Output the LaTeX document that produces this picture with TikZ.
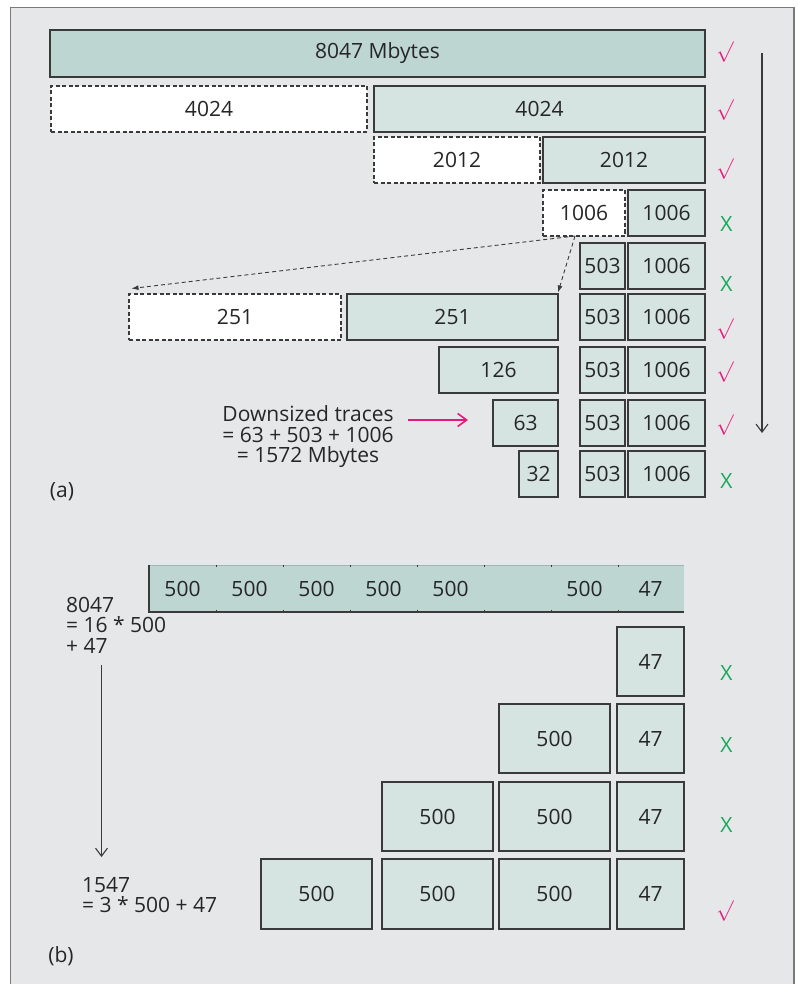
\documentclass[tikz,border=0pt]{standalone}
\usepackage{fontspec}
\setmainfont{Open Sans}
\usetikzlibrary{arrows.meta}
\definecolor{bgc}{HTML}{E6E7E9}
\definecolor{framec}{HTML}{7A7A7A}
\definecolor{linec}{HTML}{3A3A3A}
\definecolor{lightc}{HTML}{D5E4E1}
\definecolor{darkc}{HTML}{BDD6D2}
\definecolor{textc}{HTML}{262626}
\definecolor{pinkc}{HTML}{E8177D}
\definecolor{greenc}{HTML}{17A85A}
\newcommand\bx[7]{\node[#2,minimum width=#5pt-#3pt,minimum height=#6pt-#4pt] (#1) at ({(#3+#5)/2},{(#4+#6)/2}) {#7};}
\begin{document}
\begin{tikzpicture}[x=1pt,y=-1pt,
  every node/.style={text=textc},
  font=\fontsize{21}{20.5}\selectfont,
  box/.style={draw=linec,line width=1.1pt,fill=lightc,inner sep=0pt,outer sep=0pt},
  dbox/.style={box,fill=white,dash pattern=on 4pt off 2.5pt},
  darkbox/.style={box,fill=darkc},
  cell/.style={inner sep=0pt,minimum width=67pt,minimum height=47pt},
  okmark/.style={text=pinkc,font=\fontsize{21}{20}\selectfont},
  nomark/.style={text=greenc,font=\fontsize{21}{20}\selectfont},
  txt/.style={inner sep=0pt,align=left},
  darr/.style={draw=linec,line width=0.9pt,dash pattern=on 4pt off 3pt,-{Latex[length=7pt,width=5pt]}},
  varr/.style={draw=linec,line width=1.2pt,-{Straight Barb[length=8pt,width=12pt,line width=1.1pt]}},
  parr/.style={draw=pinkc,line width=1.8pt,-{Straight Barb[length=9pt,width=13pt,line width=1.6pt]}}
]
\useasboundingbox (0,0) rectangle (797,984);
\fill[white] (0,0) rectangle (797,984);
\draw[framec,fill=bgc,line width=1.2pt] (10.5,7.5) rectangle (794,1000);

% ---------- (a) ----------
\bx{a0}{darkbox}{50}{30}{705}{77}{8047 Mbytes}
\bx{a1l}{dbox}{51}{86}{367}{132}{4024}
\bx{a1r}{box}{374}{86}{705}{132}{4024}
\bx{a2l}{dbox}{374}{137}{540}{183}{2012}
\bx{a2r}{box}{543}{137}{705}{183}{2012}
\bx{a3l}{dbox}{543}{190}{625}{236}{1006}
\bx{a3r}{box}{628}{190}{705}{236}{1006}
\bx{a4m}{box}{580}{243}{625}{289}{503}
\bx{a4r}{box}{628}{243}{705}{289}{1006}
\bx{a5l}{dbox}{129}{294}{341}{340}{251}
\bx{a5c}{box}{347}{294}{558}{340}{251}
\bx{a5m}{box}{580}{294}{625}{340}{503}
\bx{a5r}{box}{628}{294}{705}{340}{1006}
\bx{a6c}{box}{439}{347}{558}{393}{126}
\bx{a6m}{box}{580}{347}{625}{393}{503}
\bx{a6r}{box}{628}{347}{705}{393}{1006}
\bx{a7c}{box}{493}{400}{558}{446}{63}
\bx{a7m}{box}{580}{400}{625}{446}{503}
\bx{a7r}{box}{628}{400}{705}{446}{1006}
\bx{a8c}{box}{519}{451}{558}{497}{32}
\bx{a8m}{box}{580}{451}{625}{497}{503}
\bx{a8r}{box}{628}{451}{705}{497}{1006}

\node[okmark] (k0) at (725,52) {$\surd$};
\node[okmark] (k1) at (725,110) {$\surd$};
\node[okmark] (k2) at (725,169) {$\surd$};
\node[nomark] (k3) at (726.5,224) {X};
\node[nomark] (k4) at (726.5,284) {X};
\node[okmark] (k5) at (725,329) {$\surd$};
\node[okmark] (k6) at (725,372) {$\surd$};
\node[okmark] (k7) at (725,425) {$\surd$};
\node[nomark] (k8) at (726.5,481) {X};

\coordinate (r1) at (762,53);
\coordinate (r2) at (762,433);
\draw[varr] (r1) -- (r2);

\coordinate (sp) at (575,236);
\draw[darr] (sp) -- ([shift={(2.5,-5.5)}]a5l.north west);
\draw[darr] (sp) -- ([shift={(0,-1.5)}]a5c.north east);

\node[txt,align=center] (dt) at (308,437) {Downsized traces\\= 63 + 503 + 1006\\= 1572 Mbytes};
\coordinate (pa) at (408,420);
\draw[parr] (pa) -- ([xshift=-25pt]a7c.west |- pa);

\node[txt] (la) at (62,492) {(a)};

% ---------- (b) ----------
\fill[darkc] (149,565) rectangle (684,612);
\draw[draw=darkc!85!black,line width=0.6pt] (149,565) -- (684,565);
\draw[linec,line width=1.1pt] (149,564.5) -- (149,612) -- (684,612);
\foreach \xx in {216,283,350,417,484,551,618}{
  \draw[linec,line width=0.8pt] (\xx,564.5) -- (\xx,567);
  \draw[linec,line width=0.8pt] (\xx,609.5) -- (\xx,612);
}
\node[cell] (c1) at (182.5,588.5) {500};
\node[cell] (c2) at (249.5,588.5) {500};
\node[cell] (c3) at (316.5,588.5) {500};
\node[cell] (c4) at (383.5,588.5) {500};
\node[cell] (c5) at (450.5,588.5) {500};
\node[cell] (c7) at (584.5,588.5) {500};
\node[cell] (c8) at (650.5,588.5) {47};

\node[txt,anchor=west] (eq1) at (66,625) {8047\\= 16 * 500\\+ 47};

\bx{b1d}{box}{617}{627}{684}{696}{47}
\bx{b2c}{box}{499}{704}{610}{773}{500}
\bx{b2d}{box}{617}{704}{684}{773}{47}
\bx{b3b}{box}{382}{782}{493}{851}{500}
\bx{b3c}{box}{499}{782}{610}{851}{500}
\bx{b3d}{box}{617}{782}{684}{851}{47}
\bx{b4a}{box}{261}{859}{372}{929}{500}
\bx{b4b}{box}{382}{859}{493}{929}{500}
\bx{b4c}{box}{499}{859}{610}{929}{500}
\bx{b4d}{box}{617}{859}{684}{929}{47}

\node[nomark] (m1) at (726.5,673) {X};
\node[nomark] (m2) at (726.5,745) {X};
\node[nomark] (m3) at (726.5,825) {X};
\node[okmark] (m4) at (725,911) {$\surd$};

\coordinate (q1) at (101.5,665);
\coordinate (q2) at (101.5,857);
\draw[varr] (q1) -- (q2);

\node[txt,anchor=west] (eq2) at (82,895) {1547\\= 3 * 500 + 47};
\node[txt] (lb) at (61,956) {(b)};
\end{tikzpicture}
\end{document}
